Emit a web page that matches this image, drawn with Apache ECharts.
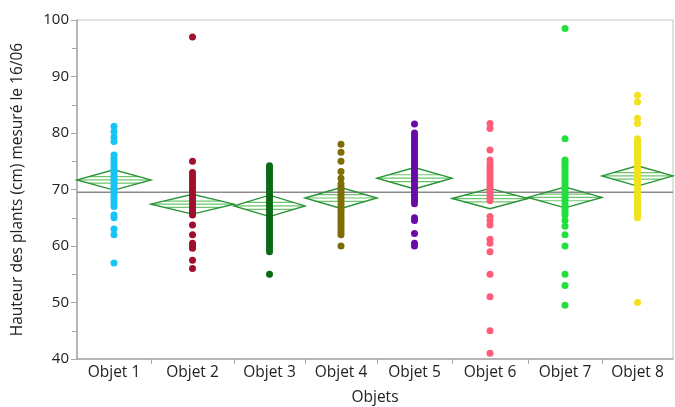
<!DOCTYPE html>
<html><head><meta charset="utf-8">
<script src="https://cdn.jsdelivr.net/npm/echarts@6/dist/echarts.min.js"></script>
<style>html,body{margin:0;padding:0;background:#fff}#c{width:675px;height:407px}</style>
</head><body><div id="c"></div>
<script>
const categories = ['Objet 1','Objet 2','Objet 3','Objet 4','Objet 5','Objet 6','Objet 7','Objet 8'];
// relative group widths (proportional to sample size, as in the source plot)
const groupWidths = [37, 41.5, 35.5, 36, 37.5, 38, 37, 35.5];
const colors = ['#16c4f5','#a0102c','#0b6b14','#7e6d05','#6a0aa8','#ff5c7a','#22e03c','#f0e21c'];
const obj1 = [81.2, 80.2, 79.3, 78.5, 76.1, 75.5, 75, 74.5, 74, 73.5, 73, 72.5, 72, 71.5, 71, 70.5, 70, 69.5, 69, 68.5, 68, 67.5, 67, 65.5, 65, 63, 62, 57];
const obj2 = [97, 75, 73, 72.5, 72, 71.5, 71, 70.5, 70, 69.5, 69, 68.5, 68, 67.5, 67, 66.5, 66, 65.5, 63.7, 62, 60.5, 60, 59.6, 57.5, 56];
const obj3 = [74.2, 73.8, 73.5, 73, 72.5, 72, 71.5, 71, 70.5, 70, 69.5, 69, 68.5, 68, 67.5, 67, 66.5, 66, 65.5, 65, 64.5, 64, 63.5, 63, 62.5, 62, 61.5, 61, 60.5, 60, 59.5, 59, 55];
const obj4 = [78, 76.6, 75, 73.2, 72, 71, 70.5, 70, 69.5, 69, 68.5, 68, 67.5, 67, 66.5, 66, 65.5, 65, 64.5, 64, 63.5, 63, 62.5, 62, 60];
const obj5 = [81.6, 80, 79.5, 79, 78.5, 78, 77.5, 77, 76.5, 76, 75.5, 75, 74.5, 74, 73.5, 73, 72.5, 72, 71.5, 71, 70.5, 70, 69.5, 69, 68.5, 68, 67.5, 65, 64.5, 62.2, 60.5, 60];
const obj6 = [81.7, 80.8, 77, 75.2, 74.5, 74, 73.5, 73, 72.5, 72, 71.5, 71, 70.5, 70, 69.5, 69, 68.5, 68, 65.2, 64.5, 63.7, 61.2, 60.5, 59, 55, 51, 45, 41];
const obj7 = [98.5, 79, 75.2, 74.8, 74.5, 74, 73.5, 73, 72.5, 72, 71.5, 71, 70.5, 70, 69.5, 69, 68.5, 68, 67.5, 67, 66.5, 66, 65.5, 64.5, 63.5, 62, 60, 55, 53, 49.5];
const obj8 = [86.7, 85.5, 82.6, 81.7, 79, 78.5, 78, 77.5, 77, 76.5, 76, 75.5, 75, 74.5, 74, 73.5, 73, 72.5, 72, 71.5, 71, 70.5, 70, 69.5, 69, 68.5, 68, 67.5, 67, 66.5, 66, 65.5, 65, 50];
const groupValues = [obj1, obj2, obj3, obj4, obj5, obj6, obj7, obj8];
const means = [71.7, 67.4, 67.1, 68.5, 72.0, 68.4, 68.6, 72.4];
const ciHalf = [1.8, 1.75, 1.9, 1.85, 1.9, 1.8, 1.85, 1.8];
const grandMean = 69.5;
const yTicks = [40, 50, 60, 70, 80, 90, 100];

// build axis positions from group widths
const bounds = [0];
groupWidths.forEach(w => bounds.push(bounds[bounds.length-1] + w));
const centers = groupWidths.map((w, i) => bounds[i] + w / 2);
const total = bounds[bounds.length-1];

const font = 'Open Sans, Noto Sans, sans-serif';
const series = [];
series.push({
  type: 'custom', z: 2, silent: true,
  data: categories.map((c, i) => [bounds[i], bounds[i+1], means[i], ciHalf[i]]),
  renderItem: function (params, api) {
    const l = api.value(0), r = api.value(1), m = api.value(2), h = api.value(3);
    const pL = api.coord([l, m]), pR = api.coord([r, m]);
    const pT = api.coord([(l + r) / 2, m + h]), pB = api.coord([(l + r) / 2, m - h]);
    const f = 0.32;
    const oT = api.coord([l, m + h * f]), oB = api.coord([l, m - h * f]);
    const halfW = (pR[0] - pL[0]) / 2, cx = (pL[0] + pR[0]) / 2;
    const ow = halfW * (1 - f);
    return {
      type: 'group', children: [
        { type: 'line', shape: { x1: pL[0], y1: pL[1], x2: pR[0], y2: pR[1] }, style: { stroke: '#6cc46c', lineWidth: 1.2 } },
        { type: 'line', shape: { x1: cx - ow, y1: oT[1], x2: cx + ow, y2: oT[1] }, style: { stroke: '#6cc46c', lineWidth: 1.2 } },
        { type: 'line', shape: { x1: cx - ow, y1: oB[1], x2: cx + ow, y2: oB[1] }, style: { stroke: '#6cc46c', lineWidth: 1.2 } },
        { type: 'polygon', shape: { points: [pL, pT, pR, pB] }, style: { fill: null, stroke: '#289434', lineWidth: 1.4 } }
      ]
    };
  }
});
series.push({
  type: 'line', z: 1, silent: true, symbol: 'none',
  data: [[0, grandMean], [total, grandMean]],
  lineStyle: { color: '#8a8a8a', width: 1.5 }
});
groupValues.forEach((vals, i) => {
  series.push({
    type: 'scatter', z: 3, symbolSize: 7,
    itemStyle: { color: colors[i], opacity: 1 },
    data: vals.map(v => [centers[i], v])
  });
});

const chart = echarts.init(document.getElementById('c'), null, { renderer: 'canvas' });
chart.setOption({
  animation: false,
  backgroundColor: '#fff',
  grid: { left: 77, right: 2, top: 20, bottom: 48, show: true, borderColor: '#c4c4c4', borderWidth: 1, containLabel: false, outerBoundsMode: 'none' },
  xAxis: {
    type: 'value', min: 0, max: total,
    name: 'Objets', nameLocation: 'middle', nameGap: 31,
    nameTextStyle: { fontFamily: font, fontSize: 15.5, color: '#222' },
    axisLine: { show: true, lineStyle: { color: '#a8a8a8', width: 1.5 } },
    axisTick: { show: true, customValues: bounds.slice(1, -1), length: 5, lineStyle: { color: '#a8a8a8' } },
    axisLabel: {
      customValues: centers, fontFamily: font, fontSize: 15.5, color: '#222', margin: 6,
      formatter: function (v) { let k = 0, best = 1e9; centers.forEach((c, i) => { if (Math.abs(c - v) < best) { best = Math.abs(c - v); k = i; } }); return categories[k]; }
    },
    splitLine: { show: false }
  },
  yAxis: {
    type: 'value', min: yTicks[0], max: yTicks[yTicks.length-1], interval: 10,
    name: 'Hauteur des plants (cm) mesuré le 16/06', nameLocation: 'middle', nameGap: 51,
    nameTextStyle: { fontFamily: font, fontSize: 15.5, color: '#222' },
    axisLine: { show: true, lineStyle: { color: '#a8a8a8', width: 1.5 } },
    axisTick: { show: true, length: 6, lineStyle: { color: '#a8a8a8' } },
    minorTick: { show: true, splitNumber: 2, length: 5, lineStyle: { color: '#a8a8a8' } },
    axisLabel: { fontFamily: font, fontSize: 15, color: '#222', margin: 8 },
    splitLine: { show: false }
  },
  series: series
});
</script></body></html>
